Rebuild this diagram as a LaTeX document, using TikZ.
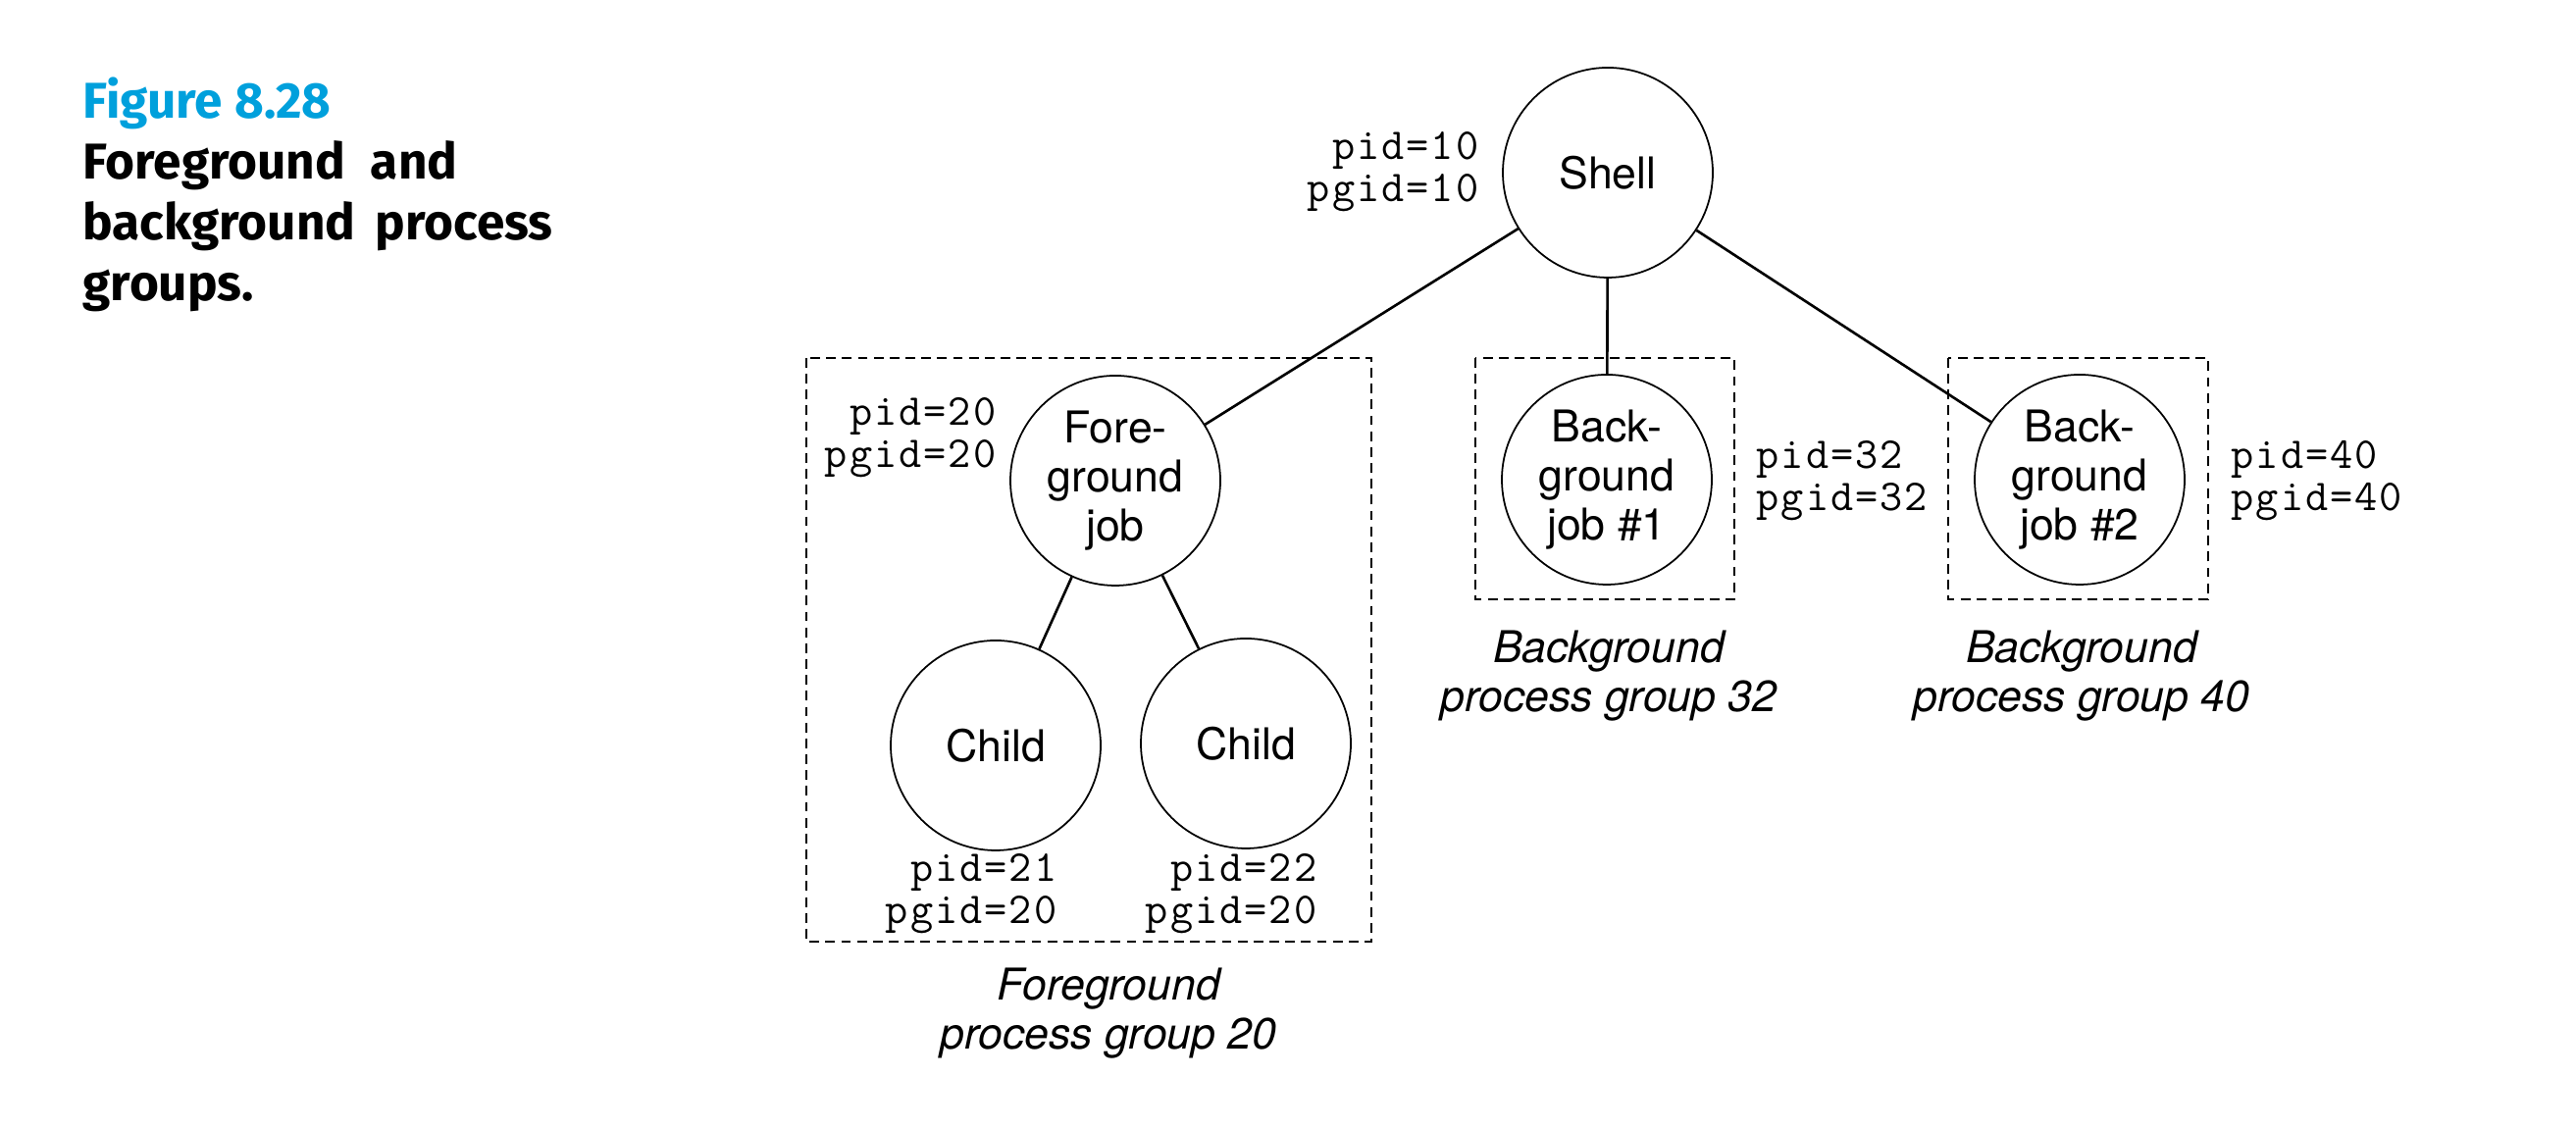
\documentclass[tikz,border=0pt]{standalone}
\usepackage{fontspec}
\setmainfont{TeX Gyre Heros}
\newfontfamily\capfont{Fira Sans}
\newfontfamily\idfont[LetterSpace=4.5]{Latin Modern Mono}
\usepackage{xcolor}
\usepackage{tikz}
\usetikzlibrary{positioning}
\definecolor{figblue}{RGB}{0,160,220}

\begin{document}
\begin{tikzpicture}[
    proc/.style={circle, draw, line width=0.5pt, minimum size=2.14cm, inner sep=0pt, align=center, font=\fontsize{12.7}{14.2}\selectfont},
    ids/.style={inner sep=0pt, font=\idfont\fontsize{12.8}{12.4}\selectfont},
    grouplabel/.style={align=center, inner sep=0pt, font=\fontsize{12.7}{14.2}\selectfont\itshape},
    groupbox/.style={line width=0.75pt, dash pattern=on 2.8pt off 1.8pt},
    link/.style={line width=0.75pt}
]
\useasboundingbox (0,0) rectangle (26.26,11.5);

% Caption
\node[anchor=north west, inner sep=0pt, align=left, font=\capfont\bfseries\fontsize{14.6}{17.7}\selectfont] (caption) at (0.84,10.72)
  {\textcolor{figblue}{Figure 8.28}\\Foreground\hspace{0.5em}and\\background\hspace{0.4em}process\\groups.};

% Process nodes
\node[proc] (shell) at (16.39,9.74) {Shell};
\node[proc] (fgjob) at (11.37,6.60) {Fore-\\ground\\job};
\node[proc] (child1) at (10.15,3.90) {Child};
\node[proc] (child2) at (12.70,3.92) {Child};
\node[proc] (bgjob1) at (16.38,6.61) {Back-\\ground\\job \#1};
\node[proc] (bgjob2) at (21.20,6.61) {Back-\\ground\\job \#2};

% Process and group ids
\node[ids, anchor=east, align=right] (shellid) at (15.08,9.75) {pid=10\\pgid=10};
\node[ids, anchor=east, align=right] (fgjobid) at (10.16,7.04) {pid=20\\pgid=20};
\node[ids, anchor=east, align=right] (child1id) at (10.78,2.39) {pid=21\\pgid=20};
\node[ids, anchor=east, align=right] (child2id) at (13.43,2.39) {pid=22\\pgid=20};
\node[ids, anchor=west, align=left] (bgjob1id) at (17.90,6.60) {pid=32\\pgid=32};
\node[ids, anchor=west, align=left] (bgjob2id) at (22.74,6.60) {pid=40\\pgid=40};

% Process groups
\draw[groupbox] (8.22,7.85) rectangle (13.98,1.90);
\draw[groupbox] (15.04,7.85) rectangle (17.68,5.39);
\draw[groupbox] (19.86,7.85) rectangle (22.51,5.39);

\node[grouplabel] (fglabel) at (11.30,1.17) {Foreground\\process group 20};
\node[grouplabel] (bg1label) at (16.40,4.61) {Background\\process group 32};
\node[grouplabel] (bg2label) at (21.22,4.61) {Background\\process group 40};

% Connections
\draw[link] (shell) -- (fgjob);
\draw[link] (shell) -- (bgjob1);
\draw[link] (shell) -- (bgjob2);
\draw[link] (fgjob) -- (child1);
\draw[link] (fgjob) -- (child2);

\end{tikzpicture}
\end{document}
